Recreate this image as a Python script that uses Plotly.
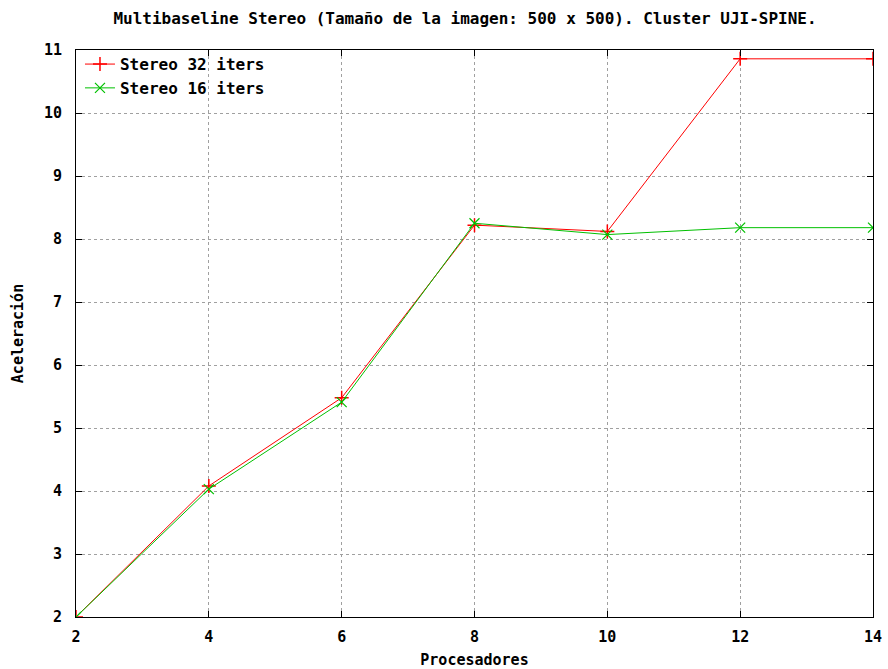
import plotly.graph_objects as go

procesadores = [2, 4, 6, 8, 10, 12, 14]
stereo32 = [2.0, 4.08, 5.48, 8.22, 8.12, 10.86, 10.86]
stereo16 = [2.0, 4.03, 5.41, 8.25, 8.07, 8.18, 8.18]
x_ticks = [2, 4, 6, 8, 10, 12, 14]
y_ticks = [2, 3, 4, 5, 6, 7, 8, 9, 10, 11]

font = "DejaVu Sans Mono"

fig = go.Figure()
fig.add_trace(go.Scatter(
    x=procesadores, y=stereo32, mode="lines+markers", name="Stereo 32 iters",
    line=dict(color="#ff0000", width=1),
    marker=dict(symbol="cross-thin", size=10, line=dict(color="#ff0000", width=1.5)),
))
fig.add_trace(go.Scatter(
    x=procesadores, y=stereo16, mode="lines+markers", name="Stereo 16 iters",
    line=dict(color="#00c000", width=1),
    marker=dict(symbol="x-thin", size=10, line=dict(color="#00c000", width=1.2)),
))

axis_common = dict(
    showline=True, linecolor="black", linewidth=1, mirror="allticks",
    ticks="inside", ticklen=6, tickcolor="black",
    showgrid=True, gridcolor="#a0a0a0", griddash="dot", gridwidth=1,
    zeroline=False, automargin=False,
    tickfont=dict(family=font, size=15, color="black", weight="bold"),
)

fig.update_layout(
    width=888, height=669,
    margin=dict(l=76, r=15, t=50, b=52),
    paper_bgcolor="white", plot_bgcolor="white",
    title=dict(text="Multibaseline Stereo (Tamaño de la imagen: 500 x 500). Cluster UJI-SPINE.",
               x=465 / 888, xanchor="center", y=1 - 18 / 669, yanchor="middle",
               font=dict(family=font, size=16, color="black", weight="bold")),
    xaxis=dict(range=[2, 14], tickvals=x_ticks, ticklabelstandoff=6,
               title=dict(text="Procesadores", standoff=16,
                          font=dict(family=font, size=15, color="black", weight="bold")),
               **axis_common),
    yaxis=dict(range=[2, 11], tickvals=y_ticks, ticklabelstandoff=10,
               title=dict(text="Aceleración", standoff=16,
                          font=dict(family=font, size=15, color="black", weight="bold")),
               **axis_common),
    legend=dict(x=0.005, y=1.005, xanchor="left", yanchor="top",
                bgcolor="rgba(255,255,255,0)",
                font=dict(family=font, size=16, color="black", weight="bold"),
                tracegroupgap=0),
)

fig.write_html("out.html")
